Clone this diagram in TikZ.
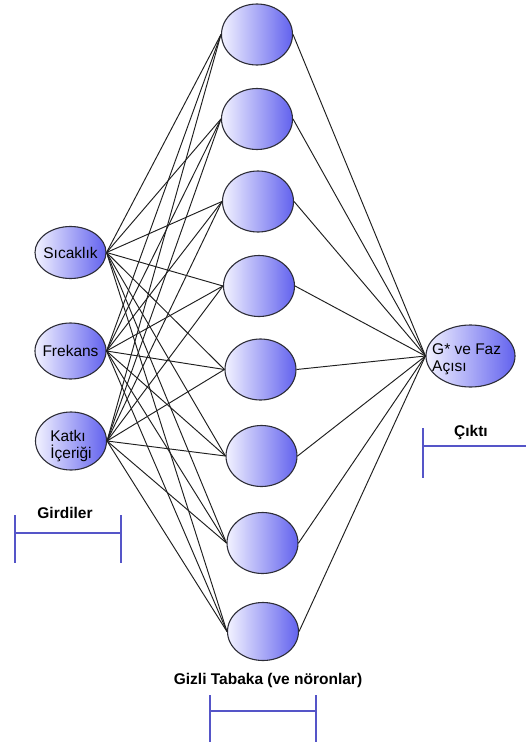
\documentclass[tikz,border=0pt]{standalone}
\usepackage{fontspec}
\setmainfont{Liberation Sans}
\usetikzlibrary{shapes.geometric}
\definecolor{hl}{RGB}{242,242,255}
\definecolor{hr}{RGB}{98,98,238}
\definecolor{edge}{RGB}{45,45,55}
\definecolor{brk}{RGB}{85,85,200}
\tikzset{
  neuron/.style={ellipse, draw=edge, line width=1.1pt, left color=hl, right color=hr, inner sep=0pt},
  inp/.style={neuron, minimum width=71pt},
  hid/.style={neuron, minimum width=71pt, minimum height=61pt},
  conn/.style={draw=black!88, line width=0.95pt},
  lbl/.style={font=\fontsize{15.5}{17.5}\selectfont, inner sep=0pt},
  blbl/.style={font=\fontsize{15.5}{17.5}\selectfont\bfseries, inner sep=0pt},
  bracket/.style={draw=brk, line width=1.5pt}
}
\begin{document}
\begin{tikzpicture}[x=1pt,y=-1pt]
\useasboundingbox (0,0) rectangle (526,747);
% inputs
\node[inp, minimum height=52pt] (i1) at (70.5,252.5) {};
\node[inp, minimum height=56pt] (i2) at (70.5,351) {};
\node[inp, minimum height=58pt] (i3) at (71,441) {};
\node[lbl] (t1) at (i1) {Sıcaklık};
\node[lbl] (t2) at (i2) {Frekans};
\node[lbl, align=left] (t3) at (71,446) {Katkı\\İçeriği};
% hidden
\node[hid] (h1) at (257,34.5) {};
\node[hid] (h2) at (257,119) {};
\node[hid] (h3) at (258,201.5) {};
\node[hid] (h4) at (259,286) {};
\node[hid] (h5) at (260.5,369.5) {};
\node[hid] (h6) at (261.5,456) {};
\node[hid] (h7) at (262.5,543) {};
\node[hid, minimum height=58pt] (h8) at (263,631.5) {};
% output
\node[neuron, minimum width=89pt, minimum height=62pt] (o) at (470.5,356) {};
\node[lbl, align=left, anchor=west] (to) at (432,359) {G* ve Faz\\Açısı};
% connections
\foreach \i in {1,2,3}{
  \foreach \h in {1,...,8}{
    \draw[conn] (i\i.east) -- (h\h.west);
  }
}
\foreach \h in {1,...,8}{
  \draw[conn] (h\h.east) -- (o.west);
}
% labels and brackets
\node[blbl] (gir) at (65,513) {Girdiler};
\draw[bracket] (15,515) -- (15,563) (121,515) -- (121,563) (15,533) -- (121,533);
\node[blbl] (giz) at (268,680) {Gizli Tabaka (ve nöronlar)};
\draw[bracket] (210,695) -- (210,742) (316,695) -- (316,742) (210,711) -- (316,711);
\node[blbl] (cik) at (471,432) {Çıktı};
\draw[bracket] (423,428) -- (423,478) (423,446) -- (526,446);
\end{tikzpicture}
\end{document}
